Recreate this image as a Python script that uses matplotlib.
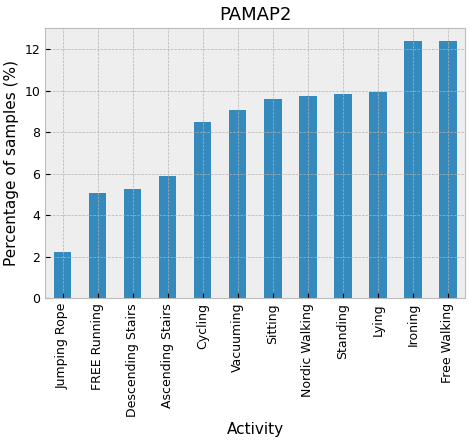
import matplotlib
matplotlib.use("Agg")
import matplotlib.pyplot as plt
plt.style.use("bmh")
plt.rcParams.update({"font.size": 10, "xtick.labelsize": 9, "ytick.labelsize": 9,
                     "axes.labelsize": 11, "axes.titlesize": 13})

activities = ["Jumping Rope", "FREE Running", "Descending Stairs", "Ascending Stairs",
              "Cycling", "Vacuuming", "Sitting", "Nordic Walking", "Standing", "Lying",
              "Ironing", "Free Walking"]
percentages = [2.2, 5.05, 5.25, 5.9, 8.5, 9.05, 9.6, 9.75, 9.85, 9.95, 12.4, 12.4]

fig, ax = plt.subplots(figsize=(4.74, 4.41), dpi=100)
ax.bar(range(len(activities)), percentages, width=0.5, color="#348ABD")
ax.set_xticks(range(len(activities)))
ax.set_xticklabels(activities, rotation=90)
ax.set_xlim(-0.5, len(activities) - 0.5)
ax.set_ylim(0, 13)
ax.set_title("PAMAP2")
ax.set_xlabel("Activity")
ax.set_ylabel("Percentage of samples (%)")
fig.subplots_adjust(left=0.095, right=0.982, top=0.936, bottom=0.324)
fig.savefig("out.png")
